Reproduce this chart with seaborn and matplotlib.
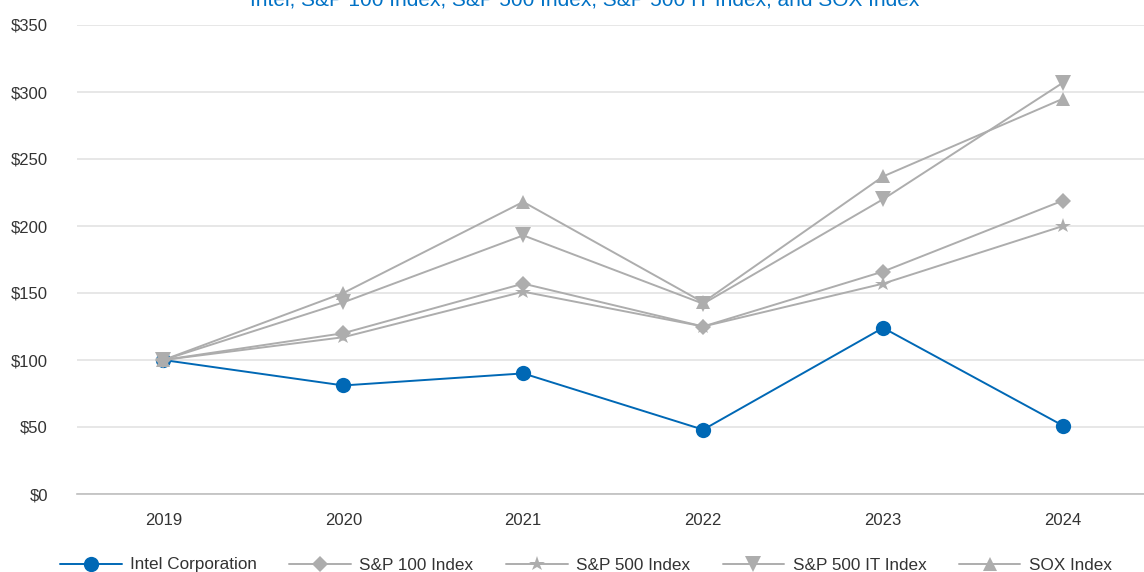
import matplotlib
matplotlib.use("Agg")
import matplotlib.pyplot as plt
import seaborn as sns
import pandas as pd

years = ["2019", "2020", "2021", "2022", "2023", "2024"]
intel = [100, 81, 90, 48, 124, 51]
sp100 = [100, 120, 157, 125, 166, 219]
sp500 = [100, 117, 151, 125, 157, 200]
sp500_it = [100, 143, 193, 142, 220, 307]
sox = [100, 150, 218, 143, 237, 295]

series_names = ["Intel Corporation", "S&P 100 Index", "S&P 500 Index", "S&P 500 IT Index", "SOX Index"]
series_values = [intel, sp100, sp500, sp500_it, sox]

BLUE = "#0068B5"
GRAY = "#ADADAD"
colors = [BLUE, GRAY, GRAY, GRAY, GRAY]
markers = ["o", "D", "*", "v", "^"]
msizes = [11, 8.5, 11.5, 11, 10.5]

sns.set_theme(style="white")
plt.rcParams["font.family"] = ["Liberation Sans", "DejaVu Sans"]

rows = []
for name, vals in zip(series_names, series_values):
    for i, v in enumerate(vals):
        rows.append({"series": name, "pos": i, "value": v})
df = pd.DataFrame(rows)

fig = plt.figure(figsize=(11.44, 5.72), dpi=100)
ax = fig.add_axes([77 / 1144, 78 / 572, 1 - 77 / 1144, 469 / 572])

# Intel first, the gray indexes over it (they overlap at 2019)
for name, col, mk, ms in zip(series_names, colors, markers, msizes):
    sub = df[df["series"] == name]
    sns.lineplot(data=sub, x="pos", y="value", ax=ax, color=col, marker=mk,
                 markersize=ms, markeredgewidth=0, linewidth=1.4, label=name)

ax.set_xlim(-0.48, 5.45)
ax.set_ylim(0, 350)
ax.set_xticks(range(len(years)))
ax.set_xticklabels(years)
ax.set_yticks(range(0, 351, 50))
ax.set_yticklabels([f"${v}" for v in range(0, 351, 50)])
ax.yaxis.grid(True, color="#E3E3E3", linewidth=1.2)
ax.set_axisbelow(True)
for s in ["top", "right", "left"]:
    ax.spines[s].set_visible(False)
ax.spines["bottom"].set_color("#BFBFBF")
ax.spines["bottom"].set_linewidth(1.2)
ax.tick_params(axis="both", labelsize=12, colors="#333333", length=0)
ax.tick_params(axis="y", pad=21)
ax.tick_params(axis="x", pad=14)
ax.set_xlabel("")
ax.set_ylabel("")

handles, labels = ax.get_legend_handles_labels()
ax.legend(handles, labels,
          loc="center", bbox_to_anchor=(586 / 1144, 7 / 572), bbox_transform=fig.transFigure,
          ncol=5, frameon=False, fontsize=12.3, handlelength=3.6, columnspacing=1.9,
          handletextpad=0.5, labelcolor="#333333")

# the reference shows the title clipped at the top edge
fig.text(585 / 1144, 1.0, "Intel, S&P 100 Index, S&P 500 Index, S&P 500 IT Index, and SOX Index",
         ha="center", va="center", color="#0071C5", fontsize=15)

fig.savefig("out.png", dpi=100)
